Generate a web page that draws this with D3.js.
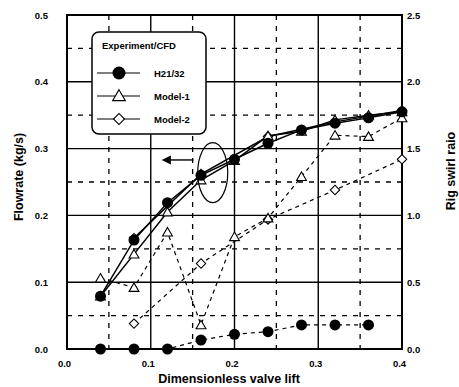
<!DOCTYPE html>
<html><head><meta charset="utf-8">
<script src="https://cdn.jsdelivr.net/npm/d3@7"></script>
<style>
html,body{margin:0;padding:0;background:#fff;}
svg{display:block;}
.tick text{font-family:"Liberation Sans Narrow","Arial Narrow","Liberation Sans",sans-serif;font-weight:bold;font-size:9.5px;fill:#000;}
.title{font-family:"Liberation Sans",Arial,sans-serif;font-weight:bold;font-size:12.5px;fill:#000;}
.leg{font-family:"Liberation Sans",Arial,sans-serif;font-weight:bold;font-size:9.5px;fill:#000;}
</style>
</head><body>
<svg id="c" width="459" height="387"></svg>
<script>
// ---- data ----
const lift = [0.04, 0.08, 0.12, 0.16, 0.20, 0.24, 0.28, 0.32, 0.36, 0.40];
const liftM2 = [0.08, 0.16, 0.24, 0.32, 0.40];
// Flowrate (kg/s), left axis
const flowH21 = [0.079, 0.163, 0.219, 0.260, 0.284, 0.308, 0.328, 0.338, 0.346, 0.355];
const flowM1  = [0.079, 0.142, 0.205, 0.253, 0.282, 0.319, 0.326, 0.343, 0.350, 0.355];
const flowM2  = [0.166, 0.262, 0.318, 0.340, 0.357];
// Rig swirl ratio, right axis
const swirlH21 = [0.0, 0.0, 0.0, 0.067, 0.11, 0.13, 0.18, 0.18, 0.18];
const swirlM1  = [0.53, 0.46, 0.875, 0.18, 0.84, 0.98, 1.29, 1.60, 1.59, 1.73];
const swirlM2  = [0.19, 0.64, 0.97, 1.19, 1.42];
const xTicks = [0.0, 0.1, 0.2, 0.3, 0.4];
const yLTicks = [0.0, 0.1, 0.2, 0.3, 0.4, 0.5];
const yRTicks = [0.0, 0.5, 1.0, 1.5, 2.0, 2.5];
const legendNames = ["H21/32", "Model-1", "Model-2"];

const svg = d3.select("#c");
const L = 67, R = 402, T = 15, B = 349;
const x = d3.scaleLinear().domain([0, 0.4]).range([L, R]);
const yL = d3.scaleLinear().domain([0, 0.5]).range([B, T]);
const yR = d3.scaleLinear().domain([0, 2.5]).range([B, T]);

// grid
const g = svg.append("g");
d3.range(1, 8).map(i => i * 0.05).forEach((v, i) => {
  const solid = (i % 2 === 1);
  g.append("line").attr("x1", x(v)).attr("x2", x(v)).attr("y1", T).attr("y2", B)
    .attr("stroke", "#000").attr("stroke-width", solid ? 1.4 : 1.3)
    .attr("stroke-dasharray", solid ? null : "5,6");
});
d3.range(1, 10).map(i => i * 0.05).forEach((v, i) => {
  const solid = (i % 2 === 1);
  g.append("line").attr("x1", L).attr("x2", R).attr("y1", yL(v)).attr("y2", yL(v))
    .attr("stroke", "#000").attr("stroke-width", solid ? 1.4 : 1.3)
    .attr("stroke-dasharray", solid ? null : "5,6");
});

// frame
svg.append("rect").attr("x", L).attr("y", T).attr("width", R - L).attr("height", B - T)
  .attr("fill", "none").attr("stroke", "#000").attr("stroke-width", 2);

// axes
const ax = svg.append("g").attr("transform", `translate(-3,${B})`)
  .call(d3.axisBottom(x).tickValues(xTicks).tickFormat(d3.format(".1f")).tickSize(0).tickPadding(11));
ax.select(".domain").remove();
const ayl = svg.append("g").attr("transform", `translate(${L},0)`)
  .call(d3.axisLeft(yL).tickValues(yLTicks).tickFormat(d3.format(".1f")).tickSize(0).tickPadding(19));
ayl.select(".domain").remove();
const ayr = svg.append("g").attr("transform", `translate(${R},0)`)
  .call(d3.axisRight(yR).tickValues(yRTicks).tickFormat(d3.format(".1f")).tickSize(0).tickPadding(5));
ayr.select(".domain").remove();

// lines
const lineL = (xs, ys) => d3.line().x((d, i) => x(xs[i])).y(d => yL(d))(ys);
const lineR = (xs, ys) => d3.line().x((d, i) => x(xs[i])).y(d => yR(d))(ys);
const dash = "4,4";
[[lift, swirlH21], [lift, swirlM1], [liftM2, swirlM2]].forEach(([xs, ys]) => {
  svg.append("path").attr("d", lineR(xs, ys)).attr("fill", "none")
    .attr("stroke", "#000").attr("stroke-width", 1.2).attr("stroke-dasharray", dash);
});
[[lift, flowH21], [lift, flowM1], [liftM2, flowM2]].forEach(([xs, ys]) => {
  svg.append("path").attr("d", lineL(xs, ys)).attr("fill", "none")
    .attr("stroke", "#000").attr("stroke-width", 1.5);
});

// markers
function circ(cx, cy, r) {
  svg.append("circle").attr("cx", cx).attr("cy", cy).attr("r", r).attr("fill", "#000");
}
function triM(cx, cy, s) {
  svg.append("path").attr("d", d3.symbol().type(d3.symbolTriangle).size(s || 42)())
    .attr("transform", `translate(${cx},${cy + 1})`).attr("fill", "#fff").attr("stroke", "#000").attr("stroke-width", 1.1);
}
function diaM(cx, cy, s) {
  svg.append("path").attr("d", d3.symbol().type(d3.symbolSquare).size(s || 44)())
    .attr("transform", `translate(${cx},${cy}) rotate(45)`).attr("fill", "#fff").attr("stroke", "#000").attr("stroke-width", 1.1);
}
swirlM2.forEach((v, i) => diaM(x(liftM2[i]), yR(v)));
swirlM1.forEach((v, i) => triM(x(lift[i]), yR(v)));
swirlH21.forEach((v, i) => circ(x(lift[i]), yR(v), 5.5));
flowM2.forEach((v, i) => diaM(x(liftM2[i]), yL(v)));
flowM1.forEach((v, i) => triM(x(lift[i]), yL(v)));
flowH21.forEach((v, i) => circ(x(lift[i]), yL(v), 5.5));

// annotation: ellipse and arrow
svg.append("ellipse").attr("cx", x(0.174)).attr("cy", yL(0.264)).attr("rx", 15).attr("ry", 30)
  .attr("fill", "none").attr("stroke", "#000").attr("stroke-width", 1.2);
svg.append("line").attr("x1", x(0.151)).attr("x2", x(0.12)).attr("y1", yL(0.283)).attr("y2", yL(0.283))
  .attr("stroke", "#000").attr("stroke-width", 1.4);
svg.append("path")
  .attr("d", `M${x(0.113)},${yL(0.283)} L${x(0.124)},${yL(0.283) - 4.5} L${x(0.124)},${yL(0.283) + 4.5} Z`)
  .attr("fill", "#000");

// legend
const lg = svg.append("g");
lg.append("rect").attr("x", 92).attr("y", 32).attr("width", 114).attr("height", 102).attr("rx", 7)
  .attr("fill", "#fff").attr("stroke", "#000").attr("stroke-width", 1.5);
lg.append("text").attr("class", "leg").attr("x", 102).attr("y", 49).text("Experiment/CFD");
const ly = [73, 96, 119];
legendNames.forEach((n, i) => {
  lg.append("line").attr("x1", 97).attr("x2", 140).attr("y1", ly[i]).attr("y2", ly[i])
    .attr("stroke", "#000").attr("stroke-width", 1.1);
  lg.append("text").attr("class", "leg").attr("x", 154).attr("y", ly[i] + 3.5).text(n);
});
circ(119, ly[0], 6.5);
triM(119, ly[1], 70);
diaM(119, ly[2], 60);

// titles
svg.append("text").attr("class", "title").attr("text-anchor", "middle")
  .attr("transform", "translate(23,177) rotate(-90)").text("Flowrate (kg/s)");
svg.append("text").attr("class", "title").attr("text-anchor", "middle")
  .attr("transform", "translate(455,171) rotate(-90)").text("Rig swirl raio");
svg.append("text").attr("class", "title").attr("text-anchor", "middle")
  .attr("x", 229).attr("y", 383).text("Dimensionless valve lift");
</script>
</body></html>
